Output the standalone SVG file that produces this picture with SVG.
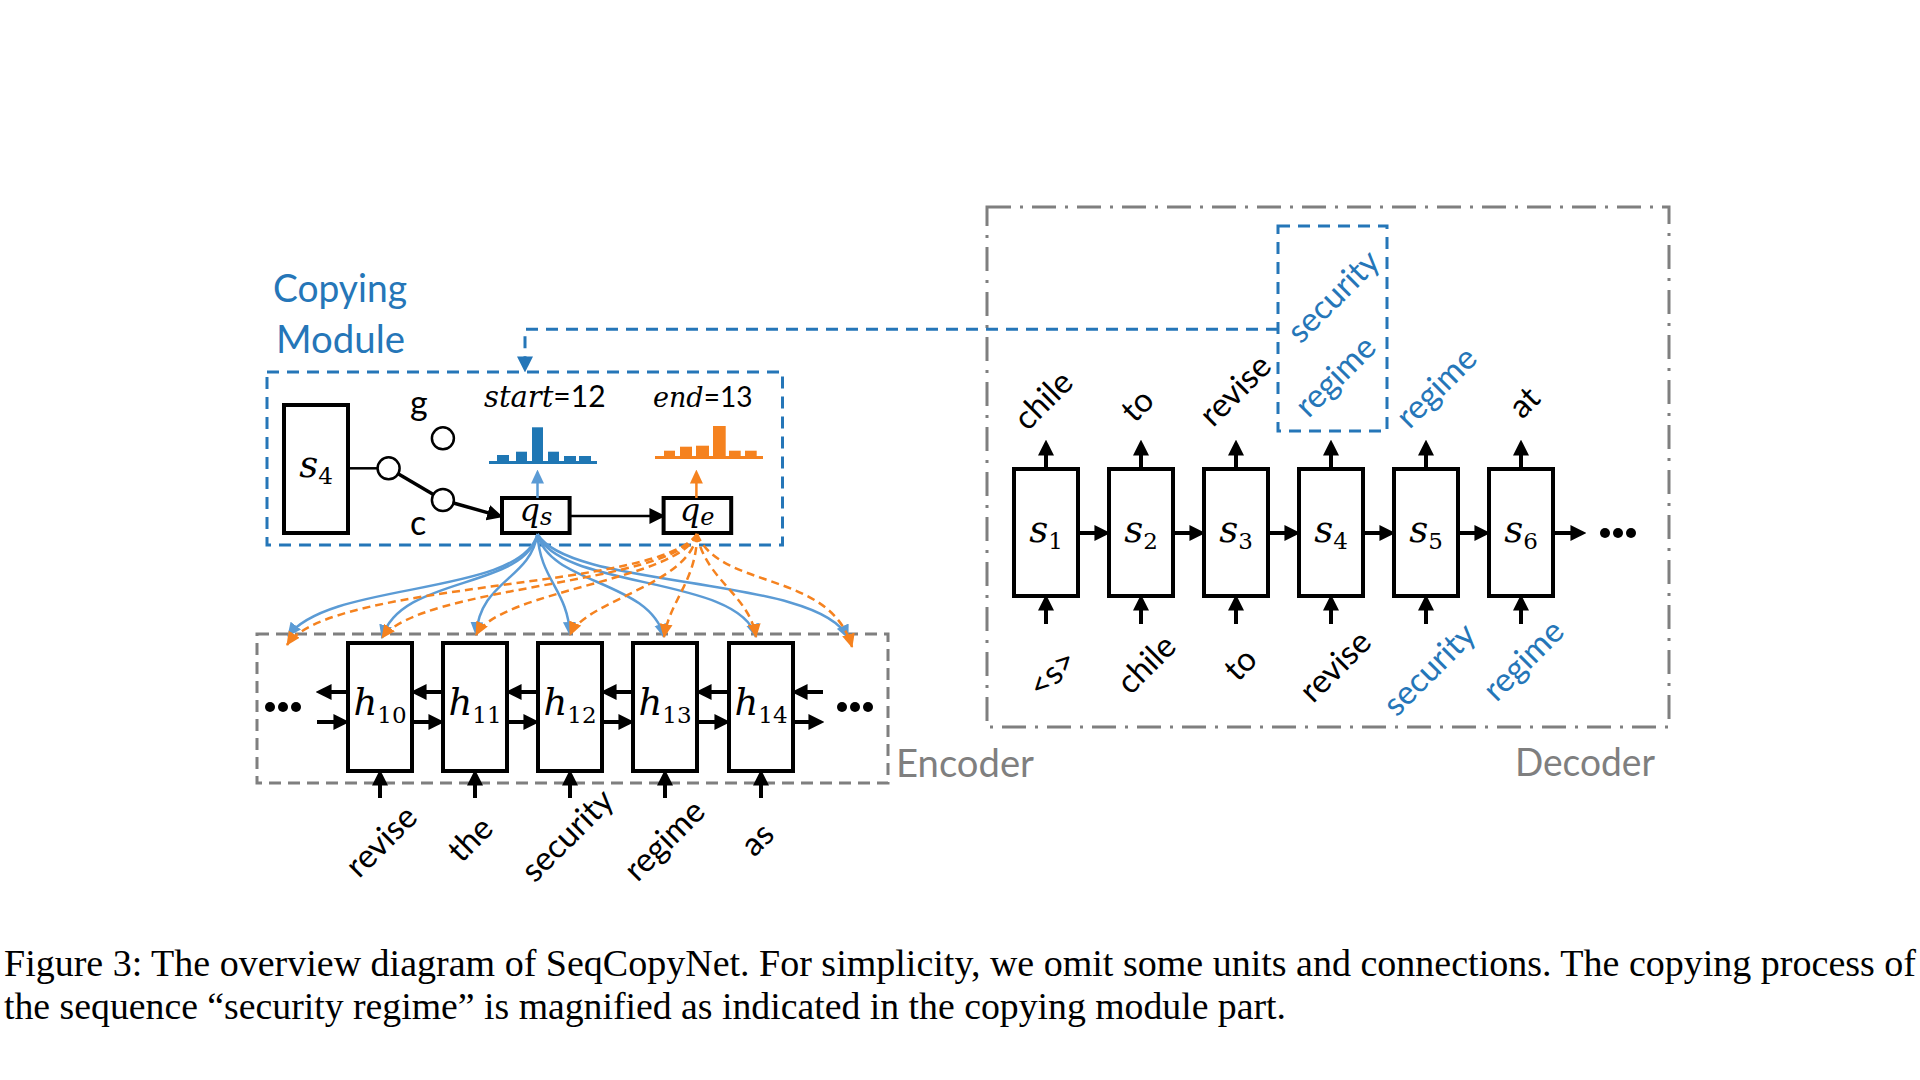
<svg xmlns="http://www.w3.org/2000/svg" width="1920" height="1080" viewBox="0 0 1920 1080">
<defs>
<style>
.box{fill:#fff;stroke:#000;stroke-width:4}
.arr{stroke:#000;stroke-width:4;fill:none;marker-end:url(#ah)}
.arrt{stroke:#000;stroke-width:2.5;fill:none;marker-end:url(#ah)}
.lbl{font-family:Lato,"Liberation Sans",sans-serif;font-size:33px;fill:#000}
.blue{fill:#2576b8}
.big{font-family:Lato,"Liberation Sans",sans-serif;font-size:38px}
.gray{fill:#7f7f7f}
.mi{font-family:"DejaVu Serif","Liberation Serif",serif;font-style:italic;font-size:37px}
.sub{font-family:"DejaVu Serif","Liberation Serif",serif;font-size:23px}
.bc{stroke:#5b9bd5;stroke-width:2.5;fill:none;marker-end:url(#bh)}
.oc{stroke:#f5821f;stroke-width:2.5;fill:none;stroke-dasharray:8 5;marker-end:url(#oh)}
.cap{font-family:"Liberation Serif","Times New Roman",serif;font-size:37px;fill:#000}
</style>
<marker id="ah" markerUnits="userSpaceOnUse" markerWidth="16" markerHeight="16" viewBox="0 0 14 14" refX="0.5" refY="7" orient="auto"><path d="M0,0 L14,7 L0,14 z" fill="#000"/></marker>
<marker id="bh" markerUnits="userSpaceOnUse" markerWidth="14" markerHeight="14" viewBox="0 0 14 14" refX="13" refY="7" orient="auto"><path d="M0,0.5 L14,7 L0,13.5 z" fill="#5b9bd5"/></marker>
<marker id="oh" markerUnits="userSpaceOnUse" markerWidth="14" markerHeight="14" viewBox="0 0 14 14" refX="13" refY="7" orient="auto"><path d="M0,0.5 L14,7 L0,13.5 z" fill="#f5821f"/></marker>
<marker id="dbh" markerUnits="userSpaceOnUse" markerWidth="16" markerHeight="16" viewBox="0 0 14 14" refX="0.5" refY="7" orient="auto"><path d="M0,0 L14,7 L0,14 z" fill="#2576b8"/></marker>
<marker id="lbh" markerUnits="userSpaceOnUse" markerWidth="14" markerHeight="14" viewBox="0 0 14 14" refX="0.5" refY="7" orient="auto"><path d="M0,0.5 L14,7 L0,13.5 z" fill="#5b9bd5"/></marker>
<marker id="loh" markerUnits="userSpaceOnUse" markerWidth="14" markerHeight="14" viewBox="0 0 14 14" refX="0.5" refY="7" orient="auto"><path d="M0,0.5 L14,7 L0,13.5 z" fill="#f5821f"/></marker>
</defs>
<rect width="1920" height="1080" fill="#fff"/>

<!-- containers -->
<g id="decoder-frame">
<rect x="987" y="207" width="682" height="520" fill="none" stroke="#7f7f7f" stroke-width="3" stroke-dasharray="24 9 3 9"/>
<text x="1515" y="776" class="big gray" textLength="140" lengthAdjust="spacingAndGlyphs">Decoder</text>
</g>
<g id="encoder-frame">
<rect x="257" y="634" width="631" height="149" fill="none" stroke="#7f7f7f" stroke-width="3" stroke-dasharray="12 7"/>
<text x="896" y="777" class="big gray" textLength="138" lengthAdjust="spacingAndGlyphs">Encoder</text>
</g>
<g id="copying-module">
<rect x="267" y="372" width="515.5" height="173" fill="none" stroke="#2576b8" stroke-width="3" stroke-dasharray="12 8"/>
<text x="273" y="302" class="big blue" textLength="134" lengthAdjust="spacingAndGlyphs">Copying</text>
<text x="276" y="353" class="big blue" textLength="129" lengthAdjust="spacingAndGlyphs">Module</text>
</g>
<g id="copied-span">
<rect x="1278" y="226" width="109" height="205" fill="none" stroke="#2576b8" stroke-width="3" stroke-dasharray="12 8"/>
<text transform="translate(1332,295) rotate(-45)" text-anchor="middle" dominant-baseline="central" class="lbl blue">security</text>
<text transform="translate(1334,375) rotate(-45)" text-anchor="middle" dominant-baseline="central" class="lbl blue">regime</text>
</g>

<!-- decoder cells -->
<g id="s1"><rect class="box" x="1014" y="469" width="64" height="127"/><text x="1046" y="542" text-anchor="middle"><tspan class="mi">s</tspan><tspan class="sub" dy="7">1</tspan></text></g>
<g id="s2"><rect class="box" x="1109" y="469" width="64" height="127"/><text x="1141" y="542" text-anchor="middle"><tspan class="mi">s</tspan><tspan class="sub" dy="7">2</tspan></text></g>
<g id="s3"><rect class="box" x="1204" y="469" width="64" height="127"/><text x="1236" y="542" text-anchor="middle"><tspan class="mi">s</tspan><tspan class="sub" dy="7">3</tspan></text></g>
<g id="s4"><rect class="box" x="1299" y="469" width="64" height="127"/><text x="1331" y="542" text-anchor="middle"><tspan class="mi">s</tspan><tspan class="sub" dy="7">4</tspan></text></g>
<g id="s5"><rect class="box" x="1394" y="469" width="64" height="127"/><text x="1426" y="542" text-anchor="middle"><tspan class="mi">s</tspan><tspan class="sub" dy="7">5</tspan></text></g>
<g id="s6"><rect class="box" x="1489" y="469" width="64" height="127"/><text x="1521" y="542" text-anchor="middle"><tspan class="mi">s</tspan><tspan class="sub" dy="7">6</tspan></text></g>
<g id="dec-dots" fill="#000"><circle cx="1605" cy="533" r="5"/><circle cx="1618" cy="533" r="5"/><circle cx="1631" cy="533" r="5"/></g>

<!-- decoder labels -->
<g id="dec-out-labels">
<text transform="translate(1042,399) rotate(-45)" text-anchor="middle" dominant-baseline="central" class="lbl">chile</text>
<text transform="translate(1136,404) rotate(-45)" text-anchor="middle" dominant-baseline="central" class="lbl">to</text>
<text transform="translate(1234,389) rotate(-45)" text-anchor="middle" dominant-baseline="central" class="lbl">revise</text>
<text transform="translate(1435,386) rotate(-45)" text-anchor="middle" dominant-baseline="central" class="lbl blue">regime</text>
<text transform="translate(1523,401) rotate(-45)" text-anchor="middle" dominant-baseline="central" class="lbl">at</text>
</g>
<g id="dec-in-labels">
<text transform="translate(1051,672) rotate(-45)" text-anchor="middle" dominant-baseline="central" class="lbl">&lt;s&gt;</text>
<text transform="translate(1145,663) rotate(-45)" text-anchor="middle" dominant-baseline="central" class="lbl">chile</text>
<text transform="translate(1239,663) rotate(-45)" text-anchor="middle" dominant-baseline="central" class="lbl">to</text>
<text transform="translate(1334,665) rotate(-45)" text-anchor="middle" dominant-baseline="central" class="lbl">revise</text>
<text transform="translate(1428,668) rotate(-45)" text-anchor="middle" dominant-baseline="central" class="lbl blue">security</text>
<text transform="translate(1522,659) rotate(-45)" text-anchor="middle" dominant-baseline="central" class="lbl blue">regime</text>
</g>

<!-- encoder cells -->
<g id="h10"><rect class="box" x="348" y="643" width="64" height="128"/><text x="380" y="715" text-anchor="middle"><tspan class="mi">h</tspan><tspan class="sub" dy="8">10</tspan></text></g>
<g id="h11"><rect class="box" x="443" y="643" width="64" height="128"/><text x="475" y="715" text-anchor="middle"><tspan class="mi">h</tspan><tspan class="sub" dy="8">11</tspan></text></g>
<g id="h12"><rect class="box" x="538" y="643" width="64" height="128"/><text x="570" y="715" text-anchor="middle"><tspan class="mi">h</tspan><tspan class="sub" dy="8">12</tspan></text></g>
<g id="h13"><rect class="box" x="633" y="643" width="64" height="128"/><text x="665" y="715" text-anchor="middle"><tspan class="mi">h</tspan><tspan class="sub" dy="8">13</tspan></text></g>
<g id="h14"><rect class="box" x="729" y="643" width="64" height="128"/><text x="761" y="715" text-anchor="middle"><tspan class="mi">h</tspan><tspan class="sub" dy="8">14</tspan></text></g>
<g id="enc-dots" fill="#000"><circle cx="270" cy="707" r="5"/><circle cx="283" cy="707" r="5"/><circle cx="296" cy="707" r="5"/><circle cx="842" cy="707" r="5"/><circle cx="855" cy="707" r="5"/><circle cx="868" cy="707" r="5"/></g>
<g id="enc-labels">
<text transform="translate(380,840) rotate(-45)" text-anchor="middle" dominant-baseline="central" class="lbl">revise</text>
<text transform="translate(469,838) rotate(-45)" text-anchor="middle" dominant-baseline="central" class="lbl">the</text>
<text transform="translate(566,834) rotate(-45)" text-anchor="middle" dominant-baseline="central" class="lbl">security</text>
<text transform="translate(663,839) rotate(-45)" text-anchor="middle" dominant-baseline="central" class="lbl">regime</text>
<text transform="translate(756,838) rotate(-45)" text-anchor="middle" dominant-baseline="central" class="lbl">as</text>
</g>

<!-- copying module internals -->
<g id="s4-module"><rect class="box" x="284" y="405" width="64" height="128"/><text x="316" y="477" text-anchor="middle"><tspan class="mi">s</tspan><tspan class="sub" dy="7">4</tspan></text></g>
<g id="switch" stroke="#000" stroke-width="2.5" fill="none">
<circle cx="388.6" cy="468.3" r="11"/>
<circle cx="442.9" cy="438.3" r="11"/>
<circle cx="442.9" cy="500" r="11"/>
<line x1="398.1" y1="473.8" x2="433.4" y2="494.5" stroke-width="3.5"/>
</g>
<text x="410" y="415" class="big" style="font-size:34px">g</text>
<text x="410" y="535" class="big" style="font-size:34px">c</text>
<g id="qs"><rect class="box" x="502" y="498" width="67.6" height="35"/><text x="536" y="521" text-anchor="middle"><tspan class="mi" style="font-size:32px">q</tspan><tspan class="sub" style="font-style:italic;font-size:24px" dy="4">s</tspan></text></g>
<g id="qe"><rect class="box" x="663.6" y="498" width="67.6" height="35"/><text x="697" y="521" text-anchor="middle"><tspan class="mi" style="font-size:32px">q</tspan><tspan class="sub" style="font-style:italic;font-size:24px" dy="4">e</tspan></text></g>
<g id="start-dist" fill="#1f77b4">
<rect x="489" y="461" width="108" height="3"/>
<rect x="497" y="455" width="12" height="7"/>
<rect x="516" y="451.7" width="11" height="10"/>
<rect x="532" y="427.3" width="11" height="34"/>
<rect x="548" y="451.7" width="11" height="10"/>
<rect x="564" y="456" width="12" height="6"/>
<rect x="579" y="456" width="12" height="6"/>
<text x="484" y="407" fill="#000"><tspan class="mi" style="font-size:29px">start</tspan><tspan class="big" style="font-size:30px">=12</tspan></text>
</g>
<g id="end-dist" fill="#f5821f">
<rect x="655" y="456" width="108" height="3"/>
<rect x="664" y="450.7" width="11" height="6"/>
<rect x="680" y="446.7" width="12" height="10"/>
<rect x="696" y="445.7" width="13" height="11"/>
<rect x="713" y="426" width="12.7" height="31"/>
<rect x="729" y="450.7" width="11.7" height="6"/>
<rect x="745" y="450.7" width="11.7" height="6"/>
<text x="653" y="407" fill="#000"><tspan class="mi" style="font-size:27px">end</tspan><tspan class="big" style="font-size:28px">=13</tspan></text>
</g>

<!-- connectors -->
<g id="connectors">
<line class="arr" x1="1078" y1="533" x2="1095" y2="533"/>
<line class="arr" x1="1173" y1="533" x2="1190" y2="533"/>
<line class="arr" x1="1268" y1="533" x2="1285" y2="533"/>
<line class="arr" x1="1363" y1="533" x2="1380" y2="533"/>
<line class="arr" x1="1458" y1="533" x2="1475" y2="533"/>
<line class="arr" x1="1553" y1="533" x2="1571" y2="533"/>
<line class="arr" x1="1046" y1="469" x2="1046" y2="455"/>
<line class="arr" x1="1141" y1="469" x2="1141" y2="455"/>
<line class="arr" x1="1236" y1="469" x2="1236" y2="455"/>
<line class="arr" x1="1331" y1="469" x2="1331" y2="455"/>
<line class="arr" x1="1426" y1="469" x2="1426" y2="455"/>
<line class="arr" x1="1521" y1="469" x2="1521" y2="455"/>
<line class="arr" x1="1046" y1="624" x2="1046" y2="610"/>
<line class="arr" x1="1141" y1="624" x2="1141" y2="610"/>
<line class="arr" x1="1236" y1="624" x2="1236" y2="610"/>
<line class="arr" x1="1331" y1="624" x2="1331" y2="610"/>
<line class="arr" x1="1426" y1="624" x2="1426" y2="610"/>
<line class="arr" x1="1521" y1="624" x2="1521" y2="610"/>
<line class="arr" x1="348" y1="692" x2="331" y2="692"/>
<line class="arr" x1="443" y1="692" x2="426" y2="692"/>
<line class="arr" x1="538" y1="692" x2="521" y2="692"/>
<line class="arr" x1="633" y1="692" x2="616" y2="692"/>
<line class="arr" x1="729" y1="692" x2="711" y2="692"/>
<line class="arr" x1="823" y1="692" x2="807" y2="692"/>
<line class="arr" x1="317" y1="722" x2="334" y2="722"/>
<line class="arr" x1="412" y1="722" x2="429" y2="722"/>
<line class="arr" x1="507" y1="722" x2="524" y2="722"/>
<line class="arr" x1="602" y1="722" x2="619" y2="722"/>
<line class="arr" x1="697" y1="722" x2="715" y2="722"/>
<line class="arr" x1="793" y1="722" x2="809" y2="722"/>
<line class="arr" x1="380" y1="798" x2="380" y2="785"/>
<line class="arr" x1="475" y1="798" x2="475" y2="785"/>
<line class="arr" x1="570" y1="798" x2="570" y2="785"/>
<line class="arr" x1="665" y1="798" x2="665" y2="785"/>
<line class="arr" x1="761" y1="798" x2="761" y2="785"/>
<line x1="348" y1="468.3" x2="377.6" y2="468.3" stroke="#000" stroke-width="2.5"/>
<line class="arr" style="stroke-width:3.5" x1="453.5" y1="503" x2="488.3" y2="512.9"/>
<line class="arrt" x1="569.6" y1="516" x2="650" y2="516"/>
<line x1="537.5" y1="498" x2="537.5" y2="483" stroke="#5b9bd5" stroke-width="2.5" marker-end="url(#lbh)"/>
<line x1="696.4" y1="498" x2="696.4" y2="483" stroke="#f5821f" stroke-width="2.5" marker-end="url(#loh)"/>
<path d="M1278,329.3 H525 V357" fill="none" stroke="#2576b8" stroke-width="3" stroke-dasharray="12 8" marker-end="url(#dbh)"/>
<path class="bc" d="M537.5,534 C520,597 330,580 288,636"/>
<path class="bc" d="M537.5,534 C525,590 400,575 382,638"/>
<path class="bc" d="M537.5,534 C530,580 480,580 476,635"/>
<path class="bc" d="M537.5,534 C540,580 568,590 570,635"/>
<path class="bc" d="M537.5,534 C550,585 650,580 664,637"/>
<path class="bc" d="M537.5,534 C560,590 740,575 756,637"/>
<path class="bc" d="M537.5,534 C570,590 820,575 848,638"/>
<path class="oc" d="M697,534 C660,590 330,580 287,645"/>
<path class="oc" d="M697,534 C670,585 420,585 382,638"/>
<path class="oc" d="M697,534 C680,580 500,590 476,635"/>
<path class="oc" d="M697,534 C690,585 585,600 570,635"/>
<path class="oc" d="M697,534 C697,580 670,600 664,637"/>
<path class="oc" d="M697,534 C705,580 750,595 756,637"/>
<path class="oc" d="M697,534 C720,590 830,570 852,647"/>
</g>

<g id="caption">
<text x="4" y="976" class="cap" textLength="1912" lengthAdjust="spacingAndGlyphs">Figure 3: The overview diagram of SeqCopyNet. For simplicity, we omit some units and connections. The copying process of</text>
<text x="4" y="1019" class="cap" textLength="1282" lengthAdjust="spacingAndGlyphs">the sequence “security regime” is magnified as indicated in the copying module part.</text>
</g>
</svg>
